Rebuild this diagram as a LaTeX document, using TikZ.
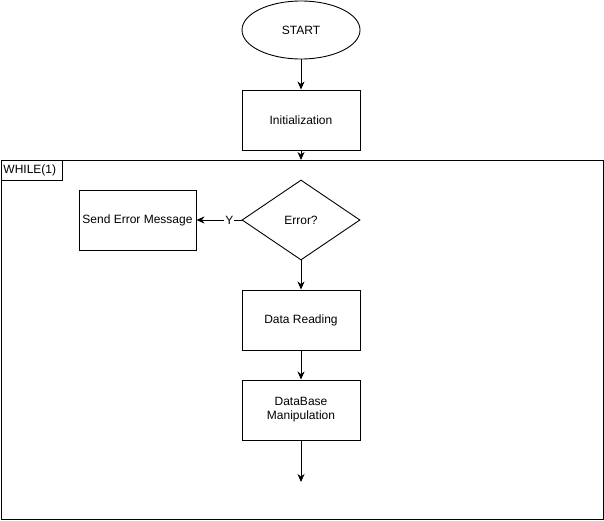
\documentclass[tikz,border=0pt]{standalone}
\usepackage{fontspec}
\setmainfont{Liberation Sans}
\usetikzlibrary{arrows.meta,shapes.geometric,positioning}

\begin{document}
\begin{tikzpicture}
  [x=1pt,y=-1pt,line width=0.9pt,
   every node/.style={font=\fontsize{12}{14}\selectfont,inner sep=0pt},
   box/.style={draw,minimum width=118pt,minimum height=60pt,align=center},
   terminal/.style={draw,ellipse,minimum width=118pt,minimum height=58pt},
   decision/.style={draw,diamond,minimum width=118pt,minimum height=80pt,aspect=1.475},
   flow/.style={-{Stealth[length=8pt,width=7pt,inset=2.5pt]}}]
  \useasboundingbox (0,0) rectangle (604,521);
  % loop frame
  \draw (1,160) rectangle (603,519);
  \node[draw,anchor=north west,minimum width=61pt,minimum height=20pt,text width=57pt,inner xsep=2pt] (loop) at (1,160) {WHILE(1)};
  % flow nodes
  \node[terminal] (start) at (301,30) {START};
  \node[box] (init) at (301,120) {Initialization};
  \node[decision] (err) at (301,220) {Error?};
  \node[box,minimum width=117pt] (send) at (137.5,220) {Send Error Message};
  \node[box] (read) at (301,320) {Data Reading};
  \node[box] (db) at (301,410) {DataBase\\Manipulation};
  \coordinate (frametop) at (301,160);
  \coordinate (end) at (301,482);
\foreach \from/\to in {start/init,init/frametop,err/read,read/db,db/end}
    \draw[flow] (\from) -- (\to);
  \draw[flow] (err) -- node[pos=0.27,fill=white,inner sep=1pt] (yes) {Y} (send);
\end{tikzpicture}
\end{document}
